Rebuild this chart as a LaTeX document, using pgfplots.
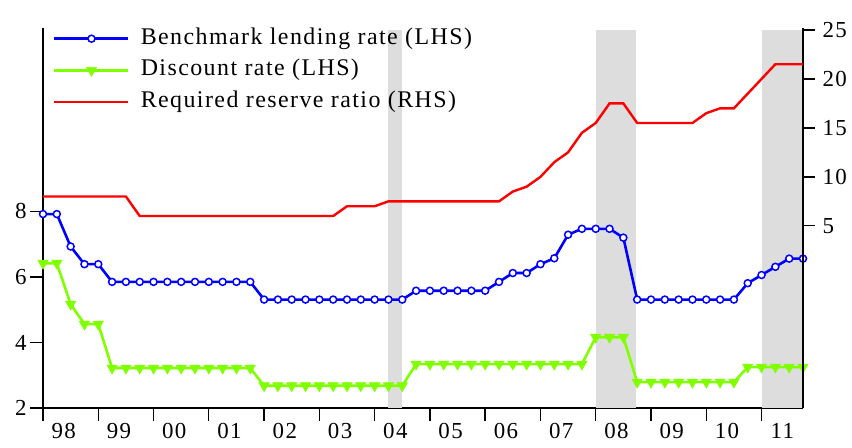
\documentclass[border=0pt]{standalone}
\usepackage{pgfplots}
\usepackage{pgfplotstable}
\pgfplotsset{compat=1.18}
\usepackage{fontspec}
\setmainfont{Liberation Serif}

\definecolor{lendblue}{RGB}{0,0,255}
\definecolor{discgreen}{RGB}{127,255,0}
\definecolor{rrrred}{RGB}{255,0,0}
\definecolor{recgray}{RGB}{221,221,221}

% quarterly: lending rate, discount rate (LHS), reserve ratio (RHS)
\pgfplotstableread{
t       lend  disc  rrr
1998.00 7.92  6.42  8
1998.25 7.92  6.42  8
1998.50 6.93  5.17  8
1998.75 6.39  4.56  8
1999.00 6.39  4.56  8
1999.25 5.85  3.22  8
1999.50 5.85  3.22  8
1999.75 5.85  3.22  6
2000.00 5.85  3.22  6
2000.25 5.85  3.22  6
2000.50 5.85  3.22  6
2000.75 5.85  3.22  6
2001.00 5.85  3.22  6
2001.25 5.85  3.22  6
2001.50 5.85  3.22  6
2001.75 5.85  3.22  6
2002.00 5.31  2.68  6
2002.25 5.31  2.68  6
2002.50 5.31  2.68  6
2002.75 5.31  2.68  6
2003.00 5.31  2.68  6
2003.25 5.31  2.68  6
2003.50 5.31  2.68  7
2003.75 5.31  2.68  7
2004.00 5.31  2.68  7
2004.25 5.31  2.68  7.5
2004.50 5.31  2.68  7.5
2004.75 5.58  3.34  7.5
2005.00 5.58  3.34  7.5
2005.25 5.58  3.34  7.5
2005.50 5.58  3.34  7.5
2005.75 5.58  3.34  7.5
2006.00 5.58  3.34  7.5
2006.25 5.85  3.34  7.5
2006.50 6.12  3.34  8.5
2006.75 6.12  3.34  9
2007.00 6.39  3.34  10
2007.25 6.57  3.34  11.5
2007.50 7.29  3.34  12.5
2007.75 7.47  3.34  14.5
2008.00 7.47  4.16  15.5
2008.25 7.47  4.16  17.5
2008.50 7.20  4.16  17.5
2008.75 5.31  2.79  15.5
2009.00 5.31  2.79  15.5
2009.25 5.31  2.79  15.5
2009.50 5.31  2.79  15.5
2009.75 5.31  2.79  15.5
2010.00 5.31  2.79  16.5
2010.25 5.31  2.79  17
2010.50 5.31  2.79  17
2010.75 5.81  3.25  18.5
2011.00 6.06  3.25  20
2011.25 6.31  3.25  21.5
2011.50 6.56  3.25  21.5
2011.75 6.56  3.25  21.5
}\rates

\pgfplotsset{
  common/.style={
    scale only axis, width=760bp, height=380bp,
    xmin=1998, xmax=2011.75,
    axis line style={-, line width=1.6bp},
    tick align=outside, major tick length=12bp, minor tick length=8bp,
    tick style={black, line width=1.3bp},
    tick label style={font=\fontsize{23}{25}\selectfont\addfontfeatures{LetterSpace=6}},
    /pgf/number format/assume math mode=true,
  }
}

\begin{document}
\begin{tikzpicture}
\path[use as bounding box] (-43bp,-40bp) rectangle (809bp,408bp);
\begin{axis}[
  common,
  ymin=2, ymax=13.6,
  axis x line*=bottom, axis y line*=left,
  xtick={1998,...,2011}, xticklabels={}, minor x tick num=3,
  major tick length=13bp,
  extra x ticks={1998.375,1999.375,2000.375,2001.375,2002.375,2003.375,2004.375,2005.375,2006.375,2007.375,2008.375,2009.375,2010.375,2011.375},
  extra x tick labels={98,99,00,01,02,03,04,05,06,07,08,09,10,11},
  extra x tick style={major tick length=0pt, xticklabel style={yshift=-12bp}},
  ytick={2,4,6,8},
  legend image code/.code={\draw[mark repeat=2,mark phase=2] plot coordinates {(0bp,0bp) (37bp,0bp) (74bp,0bp)};},
  legend cell align=left,
  legend style={draw=none, fill=none, at={(rel axis cs:0,1)}, anchor=north west,
    xshift=10bp, yshift=1bp, inner sep=0pt, row sep=8.7bp, column sep=11bp,
    font=\fontsize{24}{26}\selectfont\addfontfeatures{LetterSpace=6},
    nodes={inner sep=0pt, text height=17bp, text depth=6bp}},
]
\fill[recgray] (2004.25,2) rectangle (2004.5,13.55);
\fill[recgray] (2008.0,2) rectangle (2008.72,13.55);
\fill[recgray] (2011.0,2) rectangle (2011.75,13.55);
\addplot[lendblue, line width=2.6bp, mark=*, mark size=3.5bp,
  mark options={fill=white, line width=1.5bp}] table[x=t, y=lend] {\rates};
\addlegendentry{Benchmark lending rate (LHS)}
\addplot[discgreen, line width=2.6bp, mark=triangle*, mark size=6bp,
  mark options={rotate=180, line width=0.5bp}] table[x=t, y=disc] {\rates};
\addlegendentry{Discount rate (LHS)}
\addlegendimage{rrrred, line width=2.4bp, mark=none}
\addlegendentry{Required reserve ratio (RHS)}
\end{axis}
\begin{axis}[
  common,
  ymin=-13.6, ymax=25.2,
  hide x axis, axis y line*=right,
  ytick={5,10,15,20,25},
  yticklabel style={xshift=4bp},
]
\addplot[rrrred, line width=2.4bp, no marks] table[x=t, y=rrr] {\rates};
\end{axis}
\end{tikzpicture}
\end{document}
